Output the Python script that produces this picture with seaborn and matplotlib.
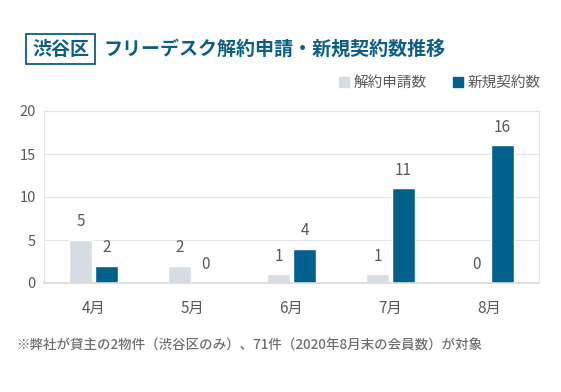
import matplotlib
matplotlib.use("Agg")
import matplotlib.pyplot as plt
import seaborn as sns
import pandas as pd
from matplotlib.patches import Patch

months = ['4月', '5月', '6月', '7月', '8月']
cancel_requests = [5, 2, 1, 1, 0]
new_contracts = [2, 0, 4, 11, 16]
series_names = ['解約申請数', '新規契約数']
yticks = [0, 5, 10, 15, 20]

title_tag = '渋谷区'
title_text = 'フリーデスク解約申請・新規契約数推移'
footnote = '※弊社が貸主の2物件（渋谷区のみ）、71件（2020年8月末の会員数）が対象'

LIGHT = '#d6dce4'
DARK = '#00618c'
TITLE_C = '#0b5f86'
GRAY = '#595959'

sns.set_theme(style='white')
plt.rcParams['font.family'] = ['Noto Sans CJK JP', 'DejaVu Sans']

df = pd.DataFrame({
    'month': months * 2,
    'value': cancel_requests + new_contracts,
    'series': [series_names[0]] * len(months) + [series_names[1]] * len(months),
})

fig = plt.figure(figsize=(5.61, 3.92), dpi=100)
ax = fig.add_axes([44 / 561, 1 - 283 / 392, 495 / 561, 172 / 392])

sns.barplot(data=df, x='month', y='value', hue='series', order=months,
            hue_order=series_names, palette=[LIGHT, DARK], width=0.53, gap=0.14,
            ax=ax, legend=False, saturation=1)

for container in ax.containers:
    ax.bar_label(container, fmt='%d', padding=7, fontsize=11, color=GRAY)

ax.set_ylim(0, 20)
ax.set_xlim(-0.5, 4.5)
ax.set_yticks(yticks)
ax.set_xlabel('')
ax.set_ylabel('')
ax.yaxis.grid(True, color='#e3e3e3', linewidth=0.8)
ax.set_axisbelow(True)
for s in ['top', 'right', 'left']:
    ax.spines[s].set_color('#e3e3e3')
    ax.spines[s].set_linewidth(0.8)
ax.spines['bottom'].set_color('#d9d9d9')
ax.spines['bottom'].set_linewidth(1.2)
ax.tick_params(axis='y', labelsize=10.5, labelcolor=GRAY, length=0, pad=6)
ax.tick_params(axis='x', labelsize=11, labelcolor=GRAY, length=0, pad=12)

# title
fig.text(32 / 561, 1 - 49 / 392, title_tag, fontsize=13.7, fontweight='bold',
         color=TITLE_C, va='center', ha='left',
         bbox=dict(boxstyle='square,pad=0.3', fc='white', ec=TITLE_C, lw=1.3))
fig.text(104 / 561, 1 - 49 / 392, title_text, fontsize=13.7, fontweight='bold',
         color=TITLE_C, va='center', ha='left')

# legend
handles = [Patch(color=LIGHT, label=series_names[0]), Patch(color=DARK, label=series_names[1])]
fig.legend(handles=handles, loc='center right', bbox_to_anchor=(554 / 561, 1 - 83 / 392),
           ncol=2, frameon=False, fontsize=10.5, handlelength=0.7, handleheight=0.7,
           handletextpad=0.3, columnspacing=1.8, labelcolor=GRAY)

fig.text(16 / 561, 1 - 346 / 392, footnote, fontsize=9.7, color='#6e6e6e',
         va='center', ha='left', fontweight='medium')

fig.savefig('out.png', dpi=100)
